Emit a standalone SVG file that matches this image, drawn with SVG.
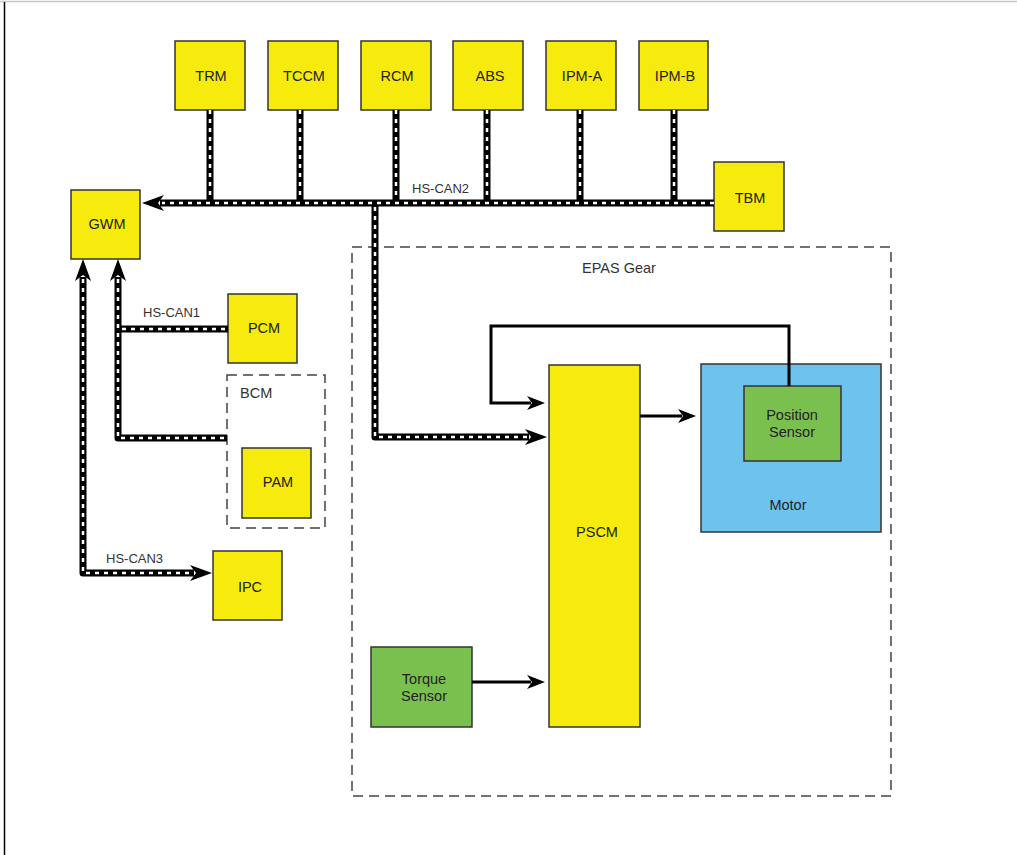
<svg xmlns="http://www.w3.org/2000/svg" width="1017" height="855" viewBox="0 0 1017 855">
<style>
.y{fill:#F7EA0D;stroke:#333;stroke-width:1.5}
.g{fill:#7AC04F;stroke:#333;stroke-width:1.5}
.b{fill:#6EC2EE;stroke:#333;stroke-width:1.5}
.dash{fill:none;stroke:#444;stroke-width:1.5;stroke-dasharray:10 6}
.t{font-family:"Liberation Sans",Arial,sans-serif;font-size:14.5px;fill:#222;text-anchor:middle}
.s{font-family:"Liberation Sans",Arial,sans-serif;font-size:13px;fill:#333}
.canB{fill:none;stroke:#000;stroke-width:7;stroke-linejoin:round}
.canW{fill:none;stroke:#fff;stroke-width:2.5;stroke-dasharray:4 5}
.thin{fill:none;stroke:#000;stroke-width:3}
</style>
<defs>
<marker id="ca" viewBox="0 0 22 16" refX="4" refY="8" markerWidth="22" markerHeight="16" markerUnits="userSpaceOnUse" orient="auto-start-reverse">
<path d="M0,0 L22,8 L0,16 L6,8 z" fill="#000"/>
</marker>
<marker id="ta" viewBox="0 0 18 14" refX="4" refY="7" markerWidth="18" markerHeight="14" markerUnits="userSpaceOnUse" orient="auto">
<path d="M0,0 L18,7 L0,14 L5,7 z" fill="#000"/>
</marker>
</defs>
<rect x="0" y="0" width="1017" height="855" fill="#fff"/>
<line x1="0" y1="1.5" x2="1017" y2="1.5" stroke="#c8c8c8" stroke-width="1.5"/>
<line x1="4.5" y1="2" x2="4.5" y2="855" stroke="#000" stroke-width="1.5"/>

<g id="epas-gear">
<rect class="dash" x="352" y="247" width="539" height="549"/>
<text class="s" x="582" y="273" style="font-size:14.5px">EPAS Gear</text>
</g>
<g id="bcm">
<rect class="dash" x="227" y="375" width="98" height="153"/>
<text class="s" x="240" y="398" style="font-size:14.5px">BCM</text>
</g>

<g id="TRM"><rect class="y" x="175" y="41" width="70" height="69"/><text class="t" x="211" y="81">TRM</text></g>
<g id="TCCM"><rect class="y" x="268" y="41" width="70" height="69"/><text class="t" x="304" y="81">TCCM</text></g>
<g id="RCM"><rect class="y" x="361" y="41" width="70" height="69"/><text class="t" x="397" y="81">RCM</text></g>
<g id="ABS"><rect class="y" x="453" y="41" width="70" height="69"/><text class="t" x="490" y="81">ABS</text></g>
<g id="IPM-A"><rect class="y" x="546" y="41" width="70" height="69"/><text class="t" x="582" y="81">IPM-A</text></g>
<g id="IPM-B"><rect class="y" x="639" y="41" width="69" height="69"/><text class="t" x="675" y="81">IPM-B</text></g>
<g id="TBM"><rect class="y" x="714" y="162" width="70" height="69"/><text class="t" x="750" y="203">TBM</text></g>
<g id="GWM"><rect class="y" x="71" y="190" width="69" height="69"/><text class="t" x="107" y="229">GWM</text></g>
<g id="PCM"><rect class="y" x="228" y="294" width="69" height="69"/><text class="t" x="264" y="333">PCM</text></g>
<g id="PAM"><rect class="y" x="242" y="448" width="69" height="70"/><text class="t" x="278" y="487">PAM</text></g>
<g id="IPC"><rect class="y" x="213" y="551" width="69" height="69"/><text class="t" x="250" y="592">IPC</text></g>
<g id="PSCM"><rect class="y" x="549" y="365" width="91" height="362"/><text class="t" x="597" y="537">PSCM</text></g>
<g id="Motor"><rect class="b" x="701" y="364" width="180" height="168"/><text class="t" x="788" y="510">Motor</text></g>
<g id="PositionSensor"><rect class="g" x="744" y="386" width="97" height="75"/><text class="t" x="792" y="420">Position</text><text class="t" x="792" y="437">Sensor</text></g>
<g id="TorqueSensor"><rect class="g" x="371" y="647" width="101" height="80"/><text class="t" x="424" y="684">Torque</text><text class="t" x="424" y="701">Sensor</text></g>

<g id="connectors">
<g id="bus-lines">
<path class="canB" d="M714,203 L160,203" marker-end="url(#ca)"/>
<path class="canB" d="M210,110 V203 M300,110 V203 M396,110 V203 M487,110 V203 M580,110 V203 M674,110 V203"/>
<path class="canB" d="M375,203 L375,437 L529,437" marker-end="url(#ca)"/>
<path class="canB" d="M83,277 L83,573 L194,573" marker-start="url(#ca)" marker-end="url(#ca)"/>
<path class="canB" d="M118,277 L118,438 L227,438" marker-start="url(#ca)"/>
<path class="canB" d="M118,329 L228,329"/>
<path class="canW" d="M714,203 L162,203"/>
<path class="canW" d="M210,110 V199 M300,110 V199 M396,110 V199 M487,110 V199 M580,110 V199 M674,110 V199"/>
<path class="canW" d="M375,207 L375,437 L527,437"/>
<path class="canW" d="M83,279 L83,573 L192,573"/>
<path class="canW" d="M118,279 L118,438 L227,438"/>
<path class="canW" d="M122,329 L228,329"/>
</g>
<path class="thin" d="M789,386 L789,326 L491,326 L491,403 L531,403" marker-end="url(#ta)"/>
<path class="thin" d="M640,416 L682,416" marker-end="url(#ta)"/>
<path class="thin" d="M472,682 L531,682" marker-end="url(#ta)"/>
</g>

<g id="labels">
<text class="s" x="412" y="193">HS-CAN2</text>
<text class="s" x="143" y="317">HS-CAN1</text>
<text class="s" x="106" y="563">HS-CAN3</text>
</g>
</svg>
